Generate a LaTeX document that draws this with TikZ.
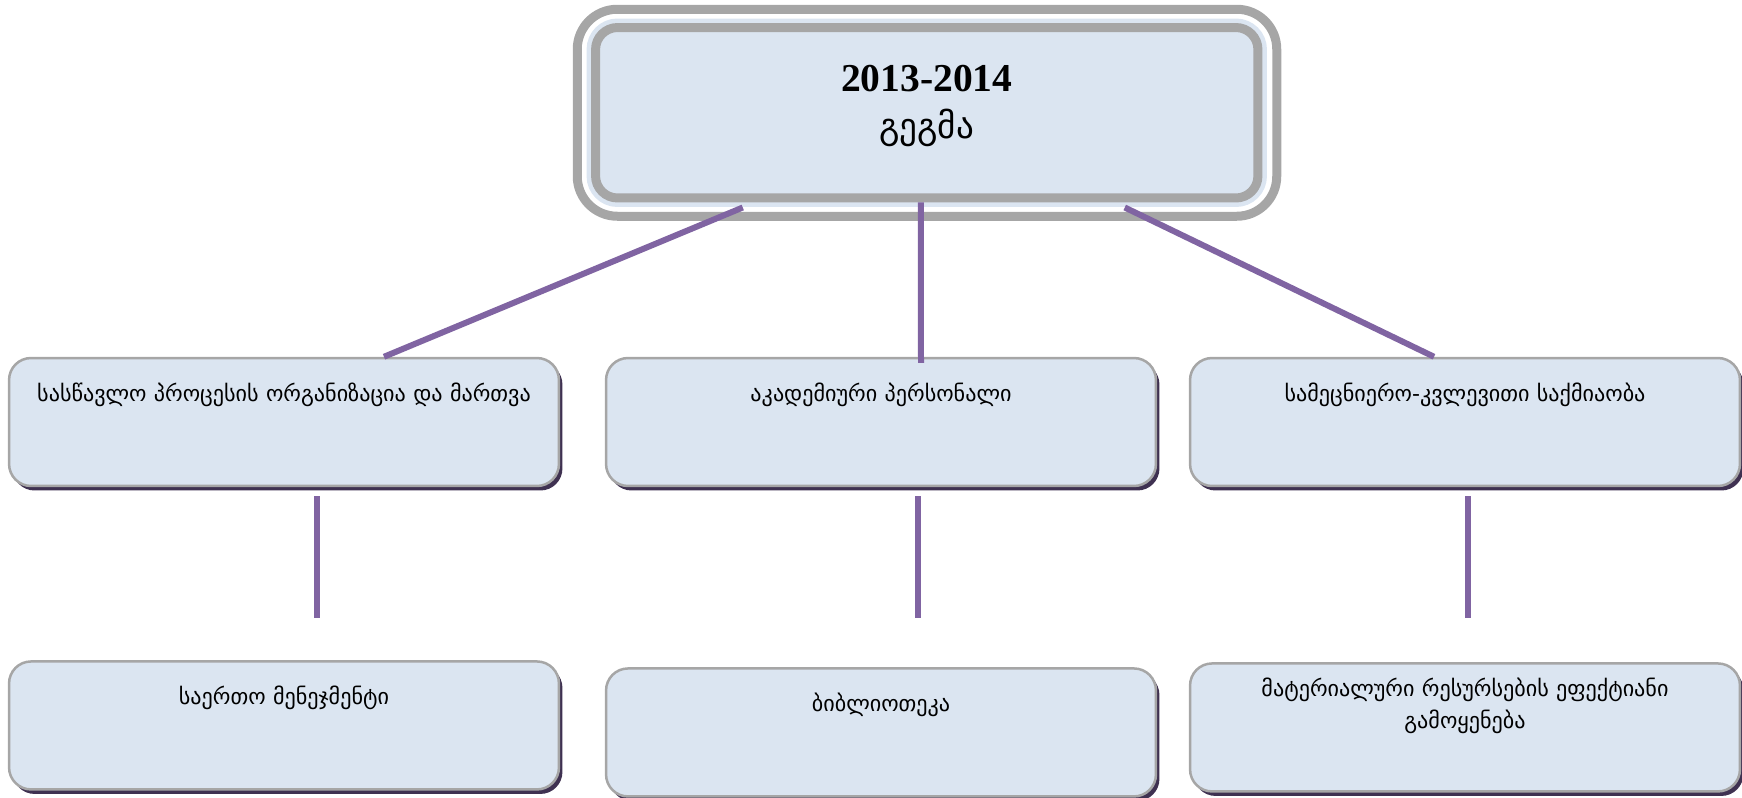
\documentclass[tikz,border=0pt]{standalone}
\usepackage{fontspec}
\setmainfont{DejaVu Sans}
\newfontfamily\yearfont{Liberation Serif}
\usepackage{tikz}
\usetikzlibrary{positioning,calc,shadows}
\definecolor{colorfill}   {RGB}{219,229,241}
\definecolor{colorframe}  {RGB}{166,166,166}
\definecolor{colorlink}   {RGB}{128,100,162}
\definecolor{colorshadow} {RGB}{63 ,49 ,81 }
\definecolor{colortext}   {RGB}{0  ,0  ,0  }

\begin{document}
\begin{tikzpicture}[
    x=0.02cm, y=-0.02cm,
    font={\fontsize{12.6}{15}\selectfont},
    base/.style={text=colortext,inner sep=0pt,align=center,rectangle,fill=colorfill,draw=colorframe},
    title/.style={base,line width=0.18cm,rounded corners=0.44cm,
        preaction={draw=colorfill,line width=0.36cm},
        font={\fontsize{20}{27}\selectfont},
        text width=12cm,minimum width=13.25cm,text height=1.27cm,text depth=2.14cm},
    areanode/.style={base,line width=0.05cm,rounded corners=0.44cm,
        text width=10.6cm,minimum width=11cm,text height=0.86cm,text depth=1.70cm,
        drop shadow={shadow xshift=0.07cm,shadow yshift=-0.09cm,fill=colorshadow,opacity=1}},
    link/.style={draw=colorlink,line width=0.12cm},
]

    \useasboundingbox (0,0) rectangle (1742,798);

    % Plan
    \draw[colorframe,line width=0.18cm,rounded corners=0.8cm]
        (577.25,9.25) rectangle (1276.75,216.25);
    \node[title] (plan) at (926.75,112.75)
        {{\yearfont\bfseries\fontsize{22.5}{27}\selectfont 2013-2014}\\გეგმა};

    % Areas
    \node[areanode] (proc) at (284,422)  {სასწავლო პროცესის ორგანიზაცია და მართვა};
    \node[areanode] (staff) at (881,422) {აკადემიური პერსონალი};
    \node[areanode] (research) at (1465,422) {სამეცნიერო-კვლევითი საქმიაობა};

    \node[areanode,below=3.46cm of proc] (mgmt) {საერთო მენეჯმენტი};
    \node[areanode,below=3.6cm of staff] (library) {ბიბლიოთეკა};
    \node[areanode,below=3.5cm of research,text height=0.66cm,text depth=1.90cm] (resources)
        {მატერიალური რესურსების ეფექტიანი\\[3pt]გამოყენება};

    % Links
    \draw[link] ($(plan.south)+(-184,5)$) -- ($(proc.north)+(100,0)$);
    \draw[link] ($(plan.south)+(-6,0)$) -- ($(staff.north)+(40,6)$);
    \draw[link] ($(plan.south)+(198,5)$) -- ($(research.north)+(-31,0)$);
    \draw[link] ($(proc.south)+(33,9)$) -- ($(mgmt.north)+(33,-42)$);
    \draw[link] ($(staff.south)+(37,9)$) -- ($(library.north)+(37,-49)$);
    \draw[link] ($(research.south)+(3,9)$) -- ($(resources.north)+(3,-44)$);

\end{tikzpicture}
\end{document}
